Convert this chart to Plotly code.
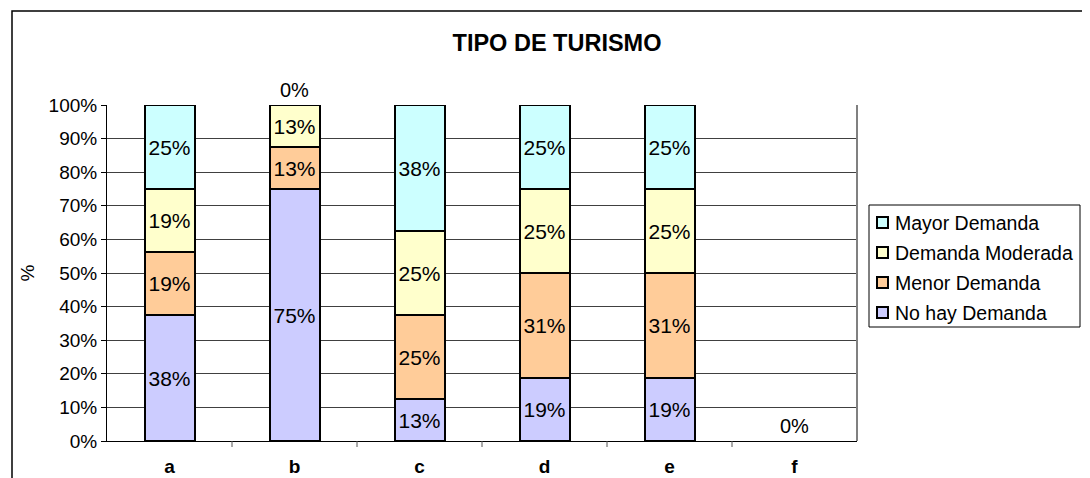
import plotly.graph_objects as go

categories = ["a", "b", "c", "d", "e", "f"]
no_hay = [37.5, 75.0, 12.5, 18.75, 18.75, 0]
menor = [18.75, 12.5, 25.0, 31.25, 31.25, 0]
moderada = [18.75, 12.5, 25.0, 25.0, 25.0, 0]
mayor = [25.0, 0, 37.5, 25.0, 25.0, 0]

series = [
    ("No hay Demanda", no_hay, "#CCCCFF"),
    ("Menor Demanda", menor, "#FFCC99"),
    ("Demanda Moderada", moderada, "#FFFFCC"),
    ("Mayor Demanda", mayor, "#CCFFFF"),
]

FONT = "Liberation Sans, Arial, sans-serif"
# the page body has an 8px margin, so the figure is drawn 8px smaller
W, H = 1082, 470
L, T, PW, PH = 99, 97, 750, 336


def px(x):
    # page pixel -> paper x
    return (x - 8 - L) / PW


def py(y):
    # page pixel -> paper y
    return 1 - (y - 8 - T) / PH


fig = go.Figure()
for name, vals, color in series:
    fig.add_trace(go.Bar(
        name=name,
        x=categories,
        y=vals,
        width=0.4,
        marker={"color": color,
                "line": {"color": "black", "width": [2 if v > 0 else 0 for v in vals]}},
        text=[f"{round(v + 1e-9):.0f}%" if v > 0 else "" for v in vals],
        textposition="inside",
        insidetextanchor="middle",
        textangle=0,
        textfont={"family": FONT, "size": 21, "color": "black"},
        constraintext="none",
        hoverinfo="skip",
        showlegend=False,
    ))

# zero-value labels that Excel still prints
totals = [a + b + c + d for a, b, c, d in zip(no_hay, menor, moderada, mayor)]
for cat, top, tot in zip(categories, mayor, totals):
    if top == 0:
        fig.add_annotation(x=cat, y=tot, text="0%", showarrow=False,
                           yanchor="bottom", yshift=2,
                           font={"family": FONT, "size": 20, "color": "black"})

# outer chart frame
fig.add_shape(type="rect", xref="paper", yref="paper",
              x0=px(12), x1=1.6, y0=-0.5, y1=py(11),
              line={"color": "black", "width": 1.5}, layer="below")

# legend drawn by hand, Excel style (reversed order)
fig.add_shape(type="rect", xref="paper", yref="paper",
              x0=px(869), x1=px(1080), y0=py(327), y1=py(205),
              line={"color": "black", "width": 1}, fillcolor="white")
for i, (name, vals, color) in enumerate(reversed(series)):
    yc = 223 + 30 * i
    fig.add_shape(type="rect", xref="paper", yref="paper",
                  x0=px(877), x1=px(888), y0=py(yc + 5), y1=py(yc - 6),
                  line={"color": "black", "width": 2}, fillcolor=color)
    fig.add_annotation(xref="paper", yref="paper", x=px(893), y=py(yc),
                       xanchor="left", yanchor="middle", showarrow=False, text=name,
                       font={"family": FONT, "size": 19.5, "color": "black"})

fig.update_layout(
    width=W, height=H,
    margin={"l": L, "r": W - L - PW, "t": T, "b": H - T - PH, "autoexpand": False},
    paper_bgcolor="white", plot_bgcolor="white",
    barmode="stack",
    showlegend=False,
    title={"text": "<b>TIPO DE TURISMO</b>", "x": 549 / W, "xanchor": "center",
           "y": 1 - 35 / H, "yanchor": "middle",
           "font": {"family": FONT, "size": 23.5, "color": "black"}},
    font={"family": FONT, "size": 19, "color": "black"},
)

fig.update_yaxes(
    range=[0, 100], dtick=10, ticksuffix="%",
    showgrid=True, gridcolor="#404040", gridwidth=1,
    showline=True, linecolor="black", linewidth=1,
    ticks="outside", ticklen=5, tickcolor="black",
    tickfont={"family": FONT, "size": 19},
    title={"text": "%", "font": {"family": FONT, "size": 19}, "standoff": 8},
)
fig.update_xaxes(
    showline=True, linecolor="black", linewidth=1,
    ticks="", tickfont={"family": FONT, "size": 19},
    tickprefix="<b>", ticksuffix="</b>", ticklabelstandoff=8,
)
# right border of plot area
fig.add_shape(type="line", xref="paper", yref="paper", x0=1, x1=1, y0=0, y1=1,
              line={"color": "#808080", "width": 2})
# category separator ticks below the axis
for i in range(1, len(categories)):
    fig.add_shape(type="line", xref="x", yref="paper", x0=i - 0.5, x1=i - 0.5,
                  y0=0, y1=-6 / PH, line={"color": "#555555", "width": 1})

fig.write_html("out.html")
